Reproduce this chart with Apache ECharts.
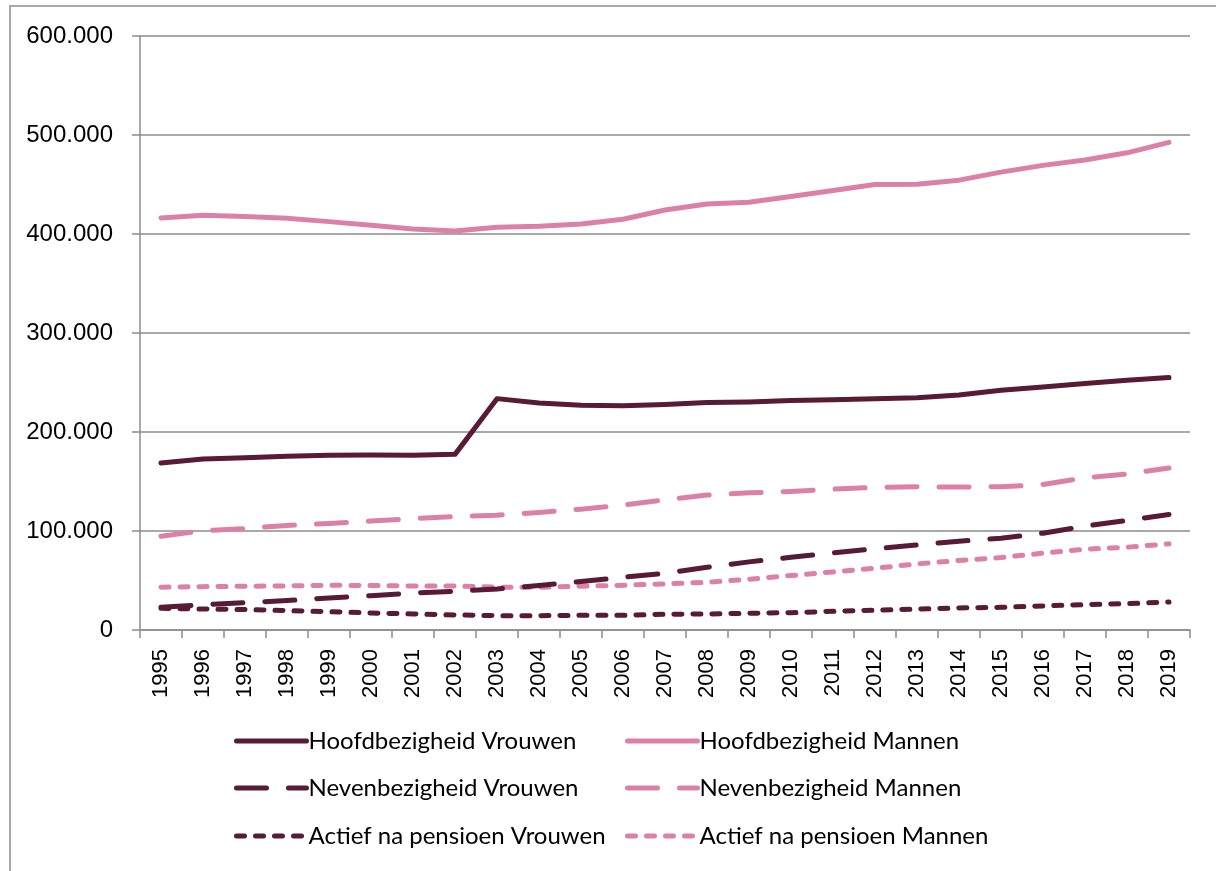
<!DOCTYPE html>
<html>
<head>
<meta charset="utf-8">
<script src="https://cdn.jsdelivr.net/npm/echarts@6/dist/echarts.min.js"></script>
<style>
    html, body { margin: 0; padding: 0; background: #fff; }
    #chart { width: 1216px; height: 871px; }
</style>
</head>
<body>
<div id="chart"></div>
<script>
var years = ['1995', '1996', '1997', '1998', '1999', '2000', '2001', '2002', '2003', '2004', '2005', '2006',
    '2007', '2008', '2009', '2010', '2011', '2012', '2013', '2014', '2015', '2016', '2017', '2018', '2019'];

// waarden in aantallen personen
var hoofdVrouwen = [168600, 172700, 174000, 175400, 176400, 176700, 176400, 177400, 233700, 229300, 227000, 226600,
    227700, 229700, 230400, 231700, 232700, 233700, 234700, 237400, 242200, 245500, 248900, 252300, 255000];
var hoofdMannen = [416200, 418900, 417600, 416000, 412500, 408800, 405000, 403000, 406800, 407800, 410000, 414900,
    424300, 430400, 432000, 437800, 443900, 450000, 450300, 454400, 462500, 469300, 474700, 482000, 492600];
var nevenVrouwen = [23000, 25600, 27700, 29700, 32400, 34700, 37400, 39100, 41500, 44900, 48900, 53300,
    57300, 63400, 68800, 73500, 77900, 82000, 86000, 89700, 92700, 97800, 104900, 110600, 116700];
var nevenMannen = [94800, 100200, 102500, 105600, 107600, 110000, 112600, 114700, 116000, 118700, 122000, 126100,
    131500, 136300, 138600, 140000, 142300, 144000, 144700, 144400, 144700, 147000, 153800, 157500, 163600];
var pensioenVrouwen = [21900, 21200, 20600, 19600, 18500, 17200, 16200, 15200, 14500, 14500, 14800, 14800,
    15900, 16200, 16900, 17500, 18900, 19900, 21200, 22300, 22900, 24300, 25600, 26600, 28300];
var pensioenMannen = [43200, 43800, 44200, 44500, 45200, 44900, 44500, 44500, 43200, 43200, 44200, 45200,
    46500, 48200, 51300, 55000, 58700, 62400, 66800, 70200, 73200, 77600, 81600, 83600, 87000];
var yTicks = [0, 100000, 200000, 300000, 400000, 500000, 600000];

var donker = '#581a35';
var roze = '#dd80a7';
var grijs = '#8c8c8c';
var axisFont = '"Liberation Sans", Arial, sans-serif';
var legendFont = 'Lato, sans-serif';

var seriesDefs = [
    { name: 'Hoofdbezigheid Vrouwen', data: hoofdVrouwen, color: donker, type: 'solid' },
    { name: 'Hoofdbezigheid Mannen', data: hoofdMannen, color: roze, type: 'solid' },
    { name: 'Nevenbezigheid Vrouwen', data: nevenVrouwen, color: donker, type: [30, 22] },
    { name: 'Nevenbezigheid Mannen', data: nevenMannen, color: roze, type: [30, 22] },
    { name: 'Actief na pensioen Vrouwen', data: pensioenVrouwen, color: donker, type: [8, 11] },
    { name: 'Actief na pensioen Mannen', data: pensioenMannen, color: roze, type: [8, 11] }
];

function formatNumber(v) {
    var s = String(Math.round(v));
    return s.replace(/\B(?=(\d{3})+(?!\d))/g, '.');
}

var series = [];
var legends = [];
var legendPos = [
    { left: 234, top: 729 }, { left: 625, top: 729 },
    { left: 234, top: 776 }, { left: 625, top: 776 },
    { left: 234, top: 824 }, { left: 625, top: 824 }
];
for (var i = 0; i < seriesDefs.length; i++) {
    var d = seriesDefs[i];
    series.push({
        name: d.name,
        type: 'line',
        data: d.data,
        symbol: 'none',
        silent: true,
        animation: false,
        z: 10 - i,
        lineStyle: { color: d.color, width: 5, type: d.type, cap: 'round', join: 'round' },
        itemStyle: { color: d.color }
    });
    legends.push({
        data: [d.name],
        left: legendPos[i].left,
        top: legendPos[i].top,
        itemWidth: 70,
        itemHeight: 26,
        itemGap: 0,
        padding: 0,
        selectedMode: false,
        itemStyle: { opacity: 0 },
        lineStyle: { color: d.color, width: 5, type: d.type, cap: 'round' },
        textStyle: { fontFamily: legendFont, fontSize: 24, color: '#000', padding: [0, 0, 0, -3] }
    });
}

var chart = echarts.init(document.getElementById('chart'));
chart.setOption({
    backgroundColor: '#fff',
    animation: false,
    textStyle: { fontFamily: axisFont },
    graphic: [{
        type: 'polyline',
        shape: { points: [[10, 871], [10, 6], [1216, 6]] },
        style: { stroke: grijs, lineWidth: 1.5, fill: null }
    }],
    grid: { left: 140, right: 26, top: 36, bottom: 241, containLabel: false },
    legend: legends,
    xAxis: {
        type: 'category',
        data: years,
        boundaryGap: true,
        axisLine: { lineStyle: { color: grijs, width: 1.5 } },
        axisTick: { show: true, length: 8, lineStyle: { color: grijs, width: 1.5 } },
        axisLabel: { rotate: 90, margin: 19, interval: 0, fontFamily: axisFont, fontSize: 22, color: '#000' }
    },
    yAxis: {
        type: 'value',
        min: yTicks[0],
        max: yTicks[yTicks.length - 1],
        interval: yTicks[1] - yTicks[0],
        axisLine: { show: true, lineStyle: { color: grijs, width: 1.5 } },
        axisTick: { show: true, length: 8, lineStyle: { color: grijs, width: 1.5 } },
        splitLine: { lineStyle: { color: grijs, width: 1.5 } },
        axisLabel: {
            margin: 27, fontFamily: axisFont, fontSize: 24, color: '#000', padding: [4, 0, 0, 0],
            formatter: function (v) { return formatNumber(v); }
        }
    },
    series: series
});
</script>
</body>
</html>
